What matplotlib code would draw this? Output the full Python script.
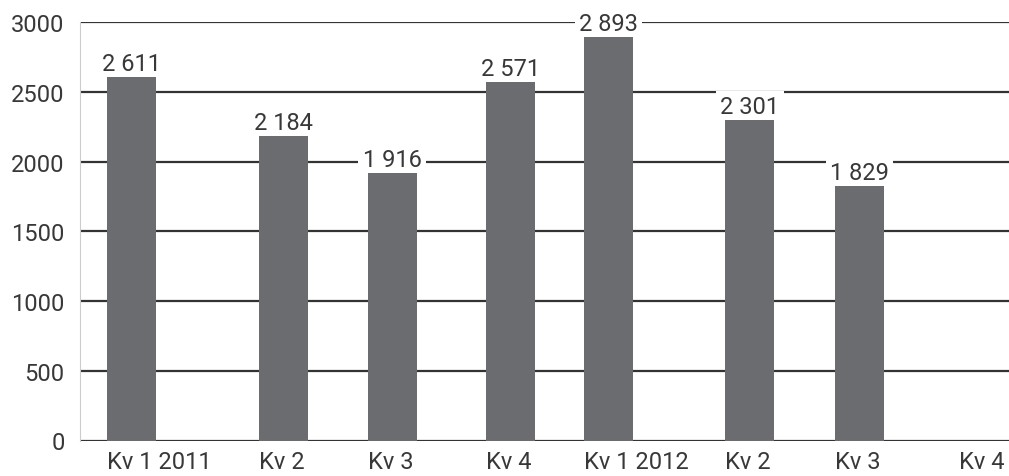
import numpy as np
import matplotlib.pyplot as plt

quarters = ["Kv 1 2011", "Kv 2", "Kv 3", "Kv 4", "Kv 1 2012", "Kv 2", "Kv 3", "Kv 4"]
values = [2611, 2184, 1916, 2571, 2893, 2301, 1829, None]

# layout: uneven slot centres as in the original
x_pos = np.array([0.444, 1.753, 2.687, 3.708, 4.552, 5.767, 6.714, 7.778])
bar_w = 0.422

plt.rcParams['font.family'] = ['Roboto', 'DejaVu Sans']

fig = plt.figure(figsize=(10.09, 4.77), dpi=100)
ax = fig.add_axes([80 / 1009, 35.5 / 477, 929 / 1009, 418.2 / 477])

for x, v in zip(x_pos, values):
    if v is None:
        continue
    ax.bar(x, v, width=bar_w, color='#6b6c70', zorder=3)
    # label box sits under the bar but over the grid, so it only cuts the gridlines
    ax.text(x, v + 50, f"{v:,}".replace(",", " "), ha='center', va='baseline',
            fontsize=17, color='#383838', zorder=2,
            bbox=dict(facecolor='white', edgecolor='none', pad=3))

ax.set_xlim(0, 8)
ax.set_ylim(0, 3000)
ax.set_yticks(range(0, 3001, 500))
ax.yaxis.grid(True, color='#333333', linewidth=1.6, zorder=1)
ax.set_axisbelow(True)

ax.set_xticks(x_pos - bar_w / 2)
ax.set_xticklabels(quarters, ha='left')
ax.tick_params(axis='x', length=0, pad=7, labelsize=17, colors='#383838')
ax.tick_params(axis='y', length=0, pad=11, labelsize=17, colors='#383838')

for s in ['top', 'right', 'bottom']:
    ax.spines[s].set_visible(False)
ax.spines['left'].set_color('#cccccc')
ax.spines['left'].set_linewidth(0.8)

fig.savefig('out.png', dpi=100)
